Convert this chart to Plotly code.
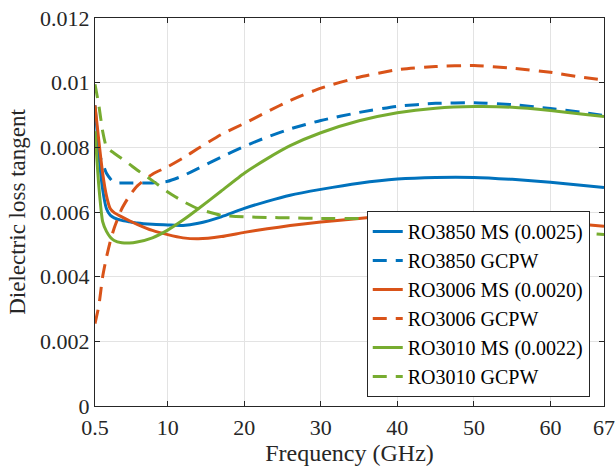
import plotly.graph_objects as go

freq = [0.5, 1, 1.5, 2, 2.5, 3, 4, 5, 6, 8, 10, 12, 14, 17, 20, 23, 26, 30, 35, 40, 45, 50, 55, 60, 64, 67]

ro3850_ms = [0.0093, 0.0078, 0.0067, 0.0061, 0.0059, 0.00582, 0.00574, 0.0057, 0.00566, 0.00562,
             0.0056, 0.00558, 0.00565, 0.00585, 0.00611, 0.00633, 0.00652, 0.0067, 0.00689,
             0.00702, 0.00707, 0.00707, 0.00701, 0.00692, 0.00683, 0.00676]
ro3850_gcpw = [0.0080, 0.0078, 0.0075, 0.0072, 0.00703, 0.0069, 0.0069, 0.0069, 0.0069, 0.0069,
               0.00695, 0.00712, 0.00735, 0.0077, 0.00803, 0.00832, 0.00857, 0.00883, 0.00908,
               0.00927, 0.00936, 0.00938, 0.00932, 0.0092, 0.00909, 0.00898]
ro3006_ms = [0.0093, 0.0082, 0.0072, 0.0065, 0.0061, 0.00598, 0.00585, 0.00573, 0.00562, 0.00543,
             0.0053, 0.0052, 0.00517, 0.00524, 0.00537, 0.00548, 0.00558, 0.00569, 0.0058,
             0.00589, 0.0059, 0.00587, 0.0058, 0.00572, 0.00562, 0.00556]
ro3006_gcpw = [0.00255, 0.0031, 0.0040, 0.0046, 0.0051, 0.0055, 0.0061, 0.0065, 0.0068, 0.00717,
               0.0074, 0.00767, 0.00797, 0.0084, 0.00874, 0.0091, 0.00945, 0.00983, 0.01017,
               0.0104, 0.0105, 0.01053, 0.01045, 0.01032, 0.01017, 0.01008]
ro3010_ms = [0.0085, 0.0068, 0.0057, 0.0054, 0.00522, 0.00512, 0.00505, 0.00504, 0.00507, 0.0052,
             0.00544, 0.00575, 0.0061, 0.00665, 0.0072, 0.00765, 0.00805, 0.00845, 0.00882,
             0.00907, 0.00921, 0.00926, 0.00924, 0.00914, 0.00903, 0.00895]
ro3010_gcpw = [0.00995, 0.0093, 0.0085, 0.0080, 0.0079, 0.00782, 0.00765, 0.00748, 0.0073, 0.00697,
               0.00662, 0.00633, 0.0061, 0.0059, 0.00585, 0.00583, 0.00582, 0.0058, 0.0058,
               0.0058, 0.00577, 0.0057, 0.0056, 0.00545, 0.00536, 0.0053]

series = [
    ("RO3850 MS (0.0025)", ro3850_ms, "#0072BD", "solid"),
    ("RO3850 GCPW", ro3850_gcpw, "#0072BD", "14px,9px"),
    ("RO3006 MS (0.0020)", ro3006_ms, "#D95319", "solid"),
    ("RO3006 GCPW", ro3006_gcpw, "#D95319", "14px,9px"),
    ("RO3010 MS (0.0022)", ro3010_ms, "#77AC30", "solid"),
    ("RO3010 GCPW", ro3010_gcpw, "#77AC30", "14px,9px"),
]

x_ticks = [0.5, 10, 20, 30, 40, 50, 60, 67]
x_ticktext = ["0.5", "10", "20", "30", "40", "50", "60", "67"]
y_ticks = [0, 0.002, 0.004, 0.006, 0.008, 0.01, 0.012]
y_ticktext = ["0", "0.002", "0.004", "0.006", "0.008", "0.01", "0.012"]

fig = go.Figure()
for name, vals, color, dash in series:
    fig.add_trace(go.Scatter(x=freq, y=vals, name=name, mode="lines",
                             line=dict(color=color, width=3, dash=dash, shape="spline", smoothing=0.5)))

font_family = "Liberation Serif, Times New Roman, Times, DejaVu Serif, serif"
axis_color = "#262626"
fig.update_layout(
    width=616, height=470,
    margin=dict(l=95, r=12, t=18, b=64),
    paper_bgcolor="white", plot_bgcolor="white",
    font=dict(family=font_family, size=22, color=axis_color),
    showlegend=True,
    legend=dict(x=0.972, y=0.023, xanchor="right", yanchor="bottom",
                bgcolor="white", bordercolor=axis_color, borderwidth=1,
                font=dict(size=20, family=font_family, color="black"),
                tracegroupgap=0),
)
fig.update_xaxes(range=[0.5, 67], tickvals=x_ticks, ticktext=x_ticktext, automargin=False,
                 ticks="inside", ticklen=5, tickcolor=axis_color, ticklabelstandoff=2,
                 showline=True, linecolor=axis_color, linewidth=1, mirror="ticks",
                 showgrid=True, gridcolor="#e3e3e3", gridwidth=1, zeroline=False,
                 title=dict(text="Frequency (GHz)", font=dict(size=24), standoff=4),
                 tickfont=dict(size=22))
fig.update_yaxes(range=[0, 0.012], tickvals=y_ticks, ticktext=y_ticktext, automargin=False,
                 ticks="inside", ticklen=5, tickcolor=axis_color,
                 showline=True, linecolor=axis_color, linewidth=1, mirror="ticks",
                 showgrid=True, gridcolor="#e3e3e3", gridwidth=1, zeroline=False,
                 title=dict(text="Dielectric loss tangent", font=dict(size=23), standoff=8),
                 tickfont=dict(size=22))

fig.write_html("out.html")
